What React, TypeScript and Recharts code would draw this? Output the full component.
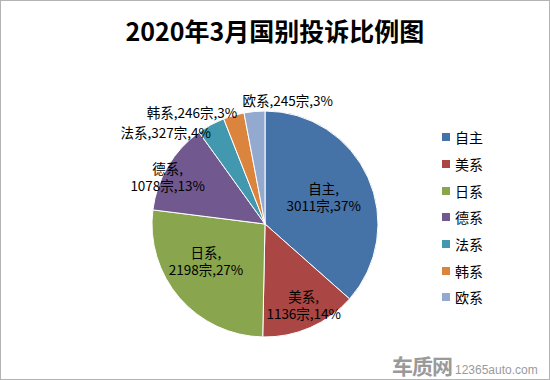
import React from 'react';
import { PieChart, Pie, Cell, Legend } from 'recharts';

const names = ['自主', '美系', '日系', '德系', '法系', '韩系', '欧系'];
const counts = [3011, 1136, 2198, 1078, 327, 246, 245];
const shares = [37, 14, 27, 13, 4, 3, 3];
const colors = ['#4572A7', '#AA4643', '#89A54E', '#71588F', '#4198AF', '#DB843D', '#93A9CF'];

const data = names.map((name, i) => ({ name, value: counts[i], share: shares[i] }));

// where each label sits, relative to the slice's mid angle
const labelSpots: Record<string, { r: number; anchor: 'start' | 'middle' | 'end'; dx: number; dy: number; split: boolean }> = {
    '自主': { r: 0.57, anchor: 'middle', dx: 0, dy: 0, split: true },
    '美系': { r: 0.81, anchor: 'middle', dx: 2, dy: -2, split: true },
    '日系': { r: 0.62, anchor: 'middle', dx: -6, dy: -8, split: true },
    '德系': { r: 0.95, anchor: 'middle', dx: -5, dy: 9, split: true },
    '法系': { r: 1.0, anchor: 'end', dx: 0, dy: 8, split: false },
    '韩系': { r: 1.02, anchor: 'end', dx: 4, dy: 0, split: false },
    '欧系': { r: 1.09, anchor: 'start', dx: -11, dy: 0, split: false },
};

const font = '"Noto Sans CJK SC", "Noto Sans", sans-serif';
const RAD = Math.PI / 180;

const renderLabel = (props: any) => {
    const { cx, cy, midAngle, outerRadius, payload } = props;
    const spot = labelSpots[payload.name];
    const rr = outerRadius * spot.r;
    const x = cx + rr * Math.cos(-midAngle * RAD) + spot.dx;
    const y = cy + rr * Math.sin(-midAngle * RAD) + spot.dy;
    const tail = `${payload.value}宗,${payload.share}%`;
    if (spot.split) {
        return (
            <text x={x} y={y} textAnchor="middle" fontSize={13.5} fontFamily={font} fill="#000">
                <tspan x={x} dy={-4}>{payload.name},</tspan>
                <tspan x={x} dy={17}>{tail}</tspan>
            </text>
        );
    }
    return (
        <text x={x} y={y} dy={5} textAnchor={spot.anchor} fontSize={13.5} fontFamily={font} fill="#000">
            {payload.name},{tail}
        </text>
    );
};

const LegendBox = () => (
    <div style={{ fontFamily: font, fontSize: 14, color: '#000' }}>
        {names.map((n, i) => (
            <div key={n} style={{ display: 'flex', alignItems: 'center', height: 26.7 }}>
                <span style={{ width: 8, height: 8, background: colors[i], marginRight: 5 }} />
                <span>{n}</span>
            </div>
        ))}
    </div>
);

export default function App() {
    return (
        <div style={{ position: 'absolute', left: 0, top: 0, width: 550, height: 380, background: '#fff' }}>
            <div style={{ position: 'absolute', left: 0, top: 12, width: 550, textAlign: 'center', fontFamily: font, fontWeight: 'bold', fontSize: 25, color: '#000' }}>
                2020年3月国别投诉比例图
            </div>
            <PieChart width={550} height={380}>
                <Pie
                    data={data}
                    dataKey="value"
                    nameKey="name"
                    cx={260}
                    cy={219}
                    outerRadius={113}
                    startAngle={90}
                    endAngle={-270}
                    stroke="#fff"
                    strokeWidth={1}
                    label={renderLabel}
                    labelLine={false}
                    isAnimationActive={false}
                >
                    {data.map((d, i) => (
                        <Cell key={d.name} fill={colors[i]} />
                    ))}
                </Pie>
                <Legend
                    layout="vertical"
                    align="right"
                    verticalAlign="top"
                    content={<LegendBox />}
                    wrapperStyle={{ left: 442, top: 124, width: 80 }}
                />
            </PieChart>
            <div style={{ position: 'absolute', left: 392, top: 350, fontFamily: font, color: '#9a9a9a', whiteSpace: 'nowrap' }}>
                <span style={{ fontSize: 21, fontWeight: 'bold', letterSpacing: -1 }}>车质网</span>
                <span style={{ fontSize: 12, marginLeft: 3, fontFamily: 'Arial, "Liberation Sans", sans-serif' }}>12365auto.com</span>
            </div>
            <div style={{ position: 'absolute', left: 0, top: 0, width: 550, height: 380, boxSizing: 'border-box', border: '1px solid #b3b3b3', pointerEvents: 'none' }} />
        </div>
    );
}
